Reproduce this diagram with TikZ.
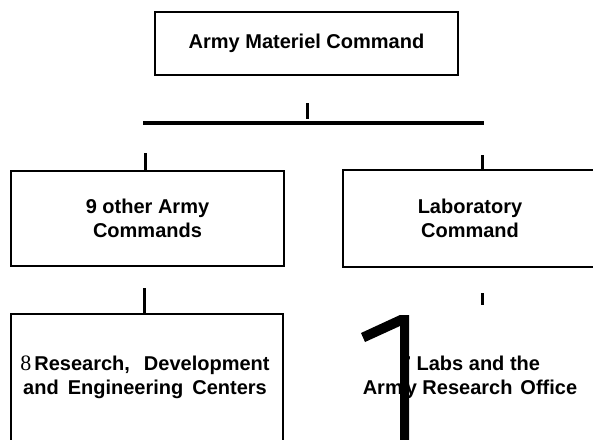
\documentclass[tikz,border=0pt]{standalone}
\usepackage{fontspec}
\setmainfont{Liberation Sans}
\newfontfamily\digitserif{Liberation Serif}
\begin{document}
\begin{tikzpicture}[x=1pt,y=-1pt,
  txt/.style={align=center, inner sep=0pt, font=\bfseries\fontsize{20}{24}\selectfont},
  box/.style={txt, draw, line width=1.6pt},
  tick/.style={line width=3pt},
  bar/.style={line width=4pt}]
\useasboundingbox (0,0) rectangle (593,439);
\clip (0,0) rectangle (593,439);
% boxes
\node[box, minimum width=303pt, minimum height=63pt] (amc) at (306.5,43.5) {Army Materiel Command};
\node[box, minimum width=273pt, minimum height=95pt] (other) at (147.5,218.5) {9 other Army\\Commands};
\node[box, minimum width=254pt, minimum height=97pt] (lab) at (470,218.5) {Laboratory\\Command};
\node[box, minimum width=272pt, minimum height=200pt, anchor=north] (rdec) at (147,313) {};
\node[txt] (rdectext) at (145,377) {{\digitserif\mdseries\fontsize{22}{24}\selectfont 8}\hspace{3pt}Research,\hspace{14pt}Development\\and\hspace{9pt}Engineering\hspace{9pt}Centers};
\node[txt] (labs) at (470,377) {7 Labs and the\\Arm\hspace{3pt}y Research\hspace{8pt}Office};
% bar and ticks
\coordinate (barL) at (143,122.5);
\coordinate (barR) at (484,122.5);
\draw[bar] (barL) -- (barR);
\coordinate (t0a) at (307,103);
\coordinate (t0b) at (307,119);
\draw[tick] (t0a) -- (t0b);
\coordinate (t1) at (145,153);
\draw[tick] (t1) -- (t1 |- other.north);
\coordinate (t2) at (482,155);
\draw[tick] (t2) -- (t2 |- lab.north);
\coordinate (t3) at (144,288);
\draw[tick] (t3) -- (t3 |- rdec.north);
\coordinate (t4a) at (482,293);
\coordinate (t4b) at (482,305);
\draw[tick] (t4a) -- (t4b);
% big one
\fill (361,333) -- (400,315) -- (409,315) -- (409,445) -- (400,445) -- (400,326) -- (365,342) -- cycle;
\end{tikzpicture}
\end{document}
